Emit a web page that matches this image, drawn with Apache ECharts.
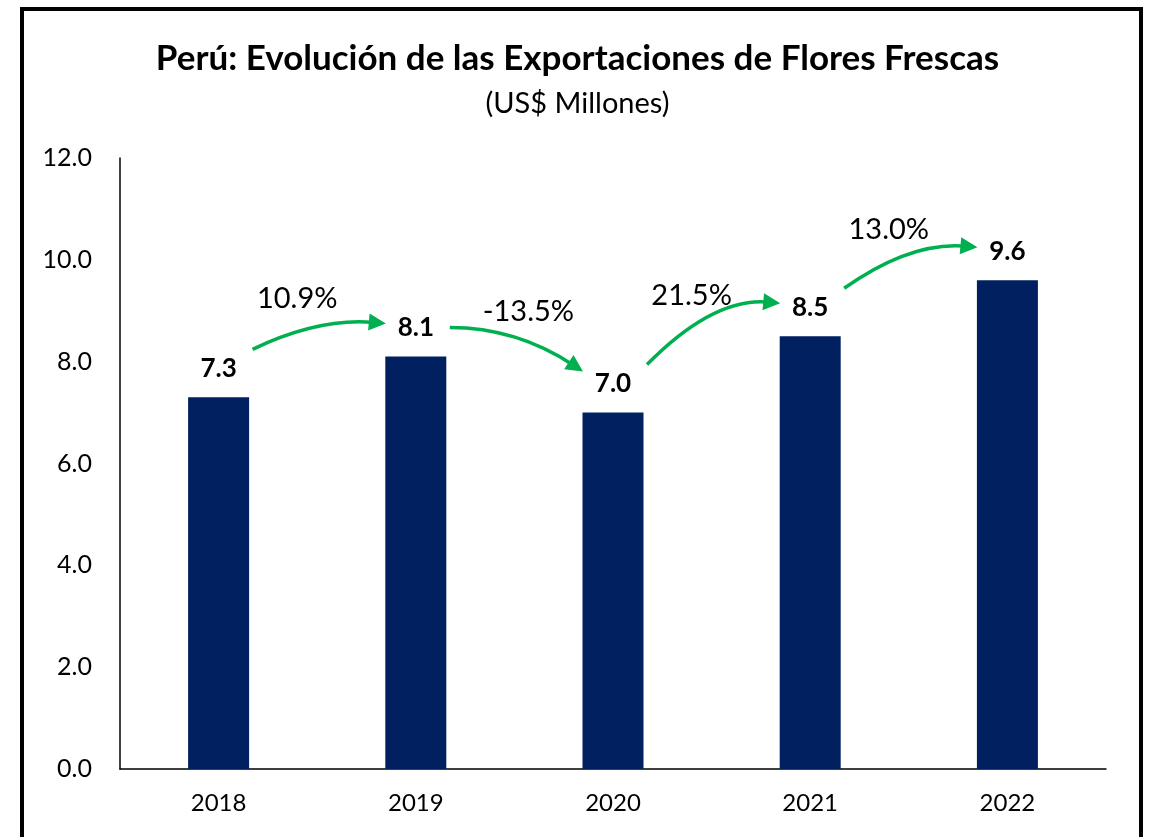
<!DOCTYPE html>
<html>
<head>
<meta charset="utf-8">
<script src="https://cdn.jsdelivr.net/npm/echarts@6/dist/echarts.min.js"></script>
<style>
html,body{margin:0;padding:0;background:#fff;}
#chart{width:1155px;height:837px;}
</style>
</head>
<body>
<div id="chart"></div>
<script>
const years = ['2018', '2019', '2020', '2021', '2022'];
const exportsValues = [7.3, 8.1, 7.0, 8.5, 9.6];
const growthLabels = ['10.9%', '-13.5%', '21.5%', '13.0%'];
const yTicks = [0, 2, 4, 6, 8, 10, 12];
const titleText = 'Perú: Evolución de las Exportaciones de Flores Frescas';
const subtitleText = '(US$ Millones)';

const FONT = 'Lato, "Open Sans", sans-serif';
const GREEN = '#00B050';

const chart = echarts.init(document.getElementById('chart'), null, {renderer: 'canvas'});

function renderArrow(params, api) {
  const i = params.dataIndex;
  const up = exportsValues[i + 1] >= exportsValues[i];
  const a = api.coord([i, exportsValues[i]]);
  const b = api.coord([i + 1, exportsValues[i + 1]]);
  const sx = a[0] + 34, sy = a[1] - (up ? 48 : 29);
  const ex = b[0] - 30, ey = b[1] - (up ? 33 : 41);
  const cpx = sx + (ex - sx) * 0.5;
  const cpy = Math.min(sy, ey) - (up ? 6 : 0);
  let dx = ex - cpx, dy = ey - cpy;
  const len = Math.sqrt(dx * dx + dy * dy);
  dx /= len; dy /= len;
  const headLen = 17, headHalf = 8.5;
  const bx = ex - dx * headLen, by = ey - dy * headLen;
  const nx = -dy, ny = dx;
  return {
    type: 'group',
    children: [
      {
        type: 'bezierCurve',
        shape: {x1: sx, y1: sy, cpx1: cpx, cpy1: cpy, x2: ex - dx * 12, y2: ey - dy * 12},
        style: {stroke: GREEN, lineWidth: 3.5, fill: null}
      },
      {
        type: 'polygon',
        shape: {points: [[ex, ey], [bx + nx * headHalf, by + ny * headHalf], [bx - nx * headHalf, by - ny * headHalf]]},
        style: {fill: GREEN}
      },
      {
        type: 'text',
        style: {
          x: (sx + ex) / 2 + (up ? -22 : 12),
          y: (sy + ey) / 2 - 38,
          text: growthLabels[i],
          font: '29px ' + FONT,
          fill: '#000',
          align: 'center',
          verticalAlign: 'middle'
        }
      }
    ]
  };
}

const option = {
  animation: false,
  backgroundColor: '#fff',
  title: [
    {
      text: titleText,
      left: 'center',
      top: 36,
      textStyle: {fontFamily: FONT, fontWeight: 'bold', fontSize: 35, color: '#000'}
    },
    {
      text: subtitleText,
      left: 'center',
      top: 84,
      textStyle: {fontFamily: FONT, fontWeight: 'normal', fontSize: 29, color: '#000'}
    }
  ],
  graphic: [
    {
      type: 'rect',
      shape: {x: 22, y: 9, width: 1119, height: 860},
      style: {fill: null, stroke: '#000', lineWidth: 4},
      silent: true
    }
  ],
  grid: {left: 120, right: 49, top: 158, bottom: 68},
  xAxis: {
    type: 'category',
    data: years,
    axisLine: {show: true, lineStyle: {color: '#000', width: 1.5}},
    axisTick: {show: false},
    axisLabel: {fontFamily: FONT, fontSize: 24, color: '#000', margin: 22}
  },
  yAxis: {
    type: 'value',
    min: yTicks[0],
    max: yTicks[yTicks.length - 1],
    interval: yTicks[1] - yTicks[0],
    axisLine: {show: true, lineStyle: {color: '#000', width: 1.5}},
    axisTick: {show: false},
    splitLine: {show: false},
    axisLabel: {
      fontFamily: FONT, fontSize: 25, color: '#000', margin: 28,
      formatter: v => v.toFixed(1)
    }
  },
  series: [
    {
      type: 'bar',
      data: exportsValues,
      barWidth: 61,
      itemStyle: {color: '#002060'},
      label: {
        show: true,
        position: 'top',
        distance: 16,
        fontFamily: FONT,
        fontWeight: 'bold',
        fontSize: 26,
        color: '#000',
        formatter: p => p.value.toFixed(1)
      }
    },
    {
      type: 'custom',
      silent: true,
      clip: false,
      renderItem: renderArrow,
      data: growthLabels.map((g, i) => [i, exportsValues[i]]),
      z: 5
    }
  ]
};
chart.setOption(option);
</script>
</body>
</html>
